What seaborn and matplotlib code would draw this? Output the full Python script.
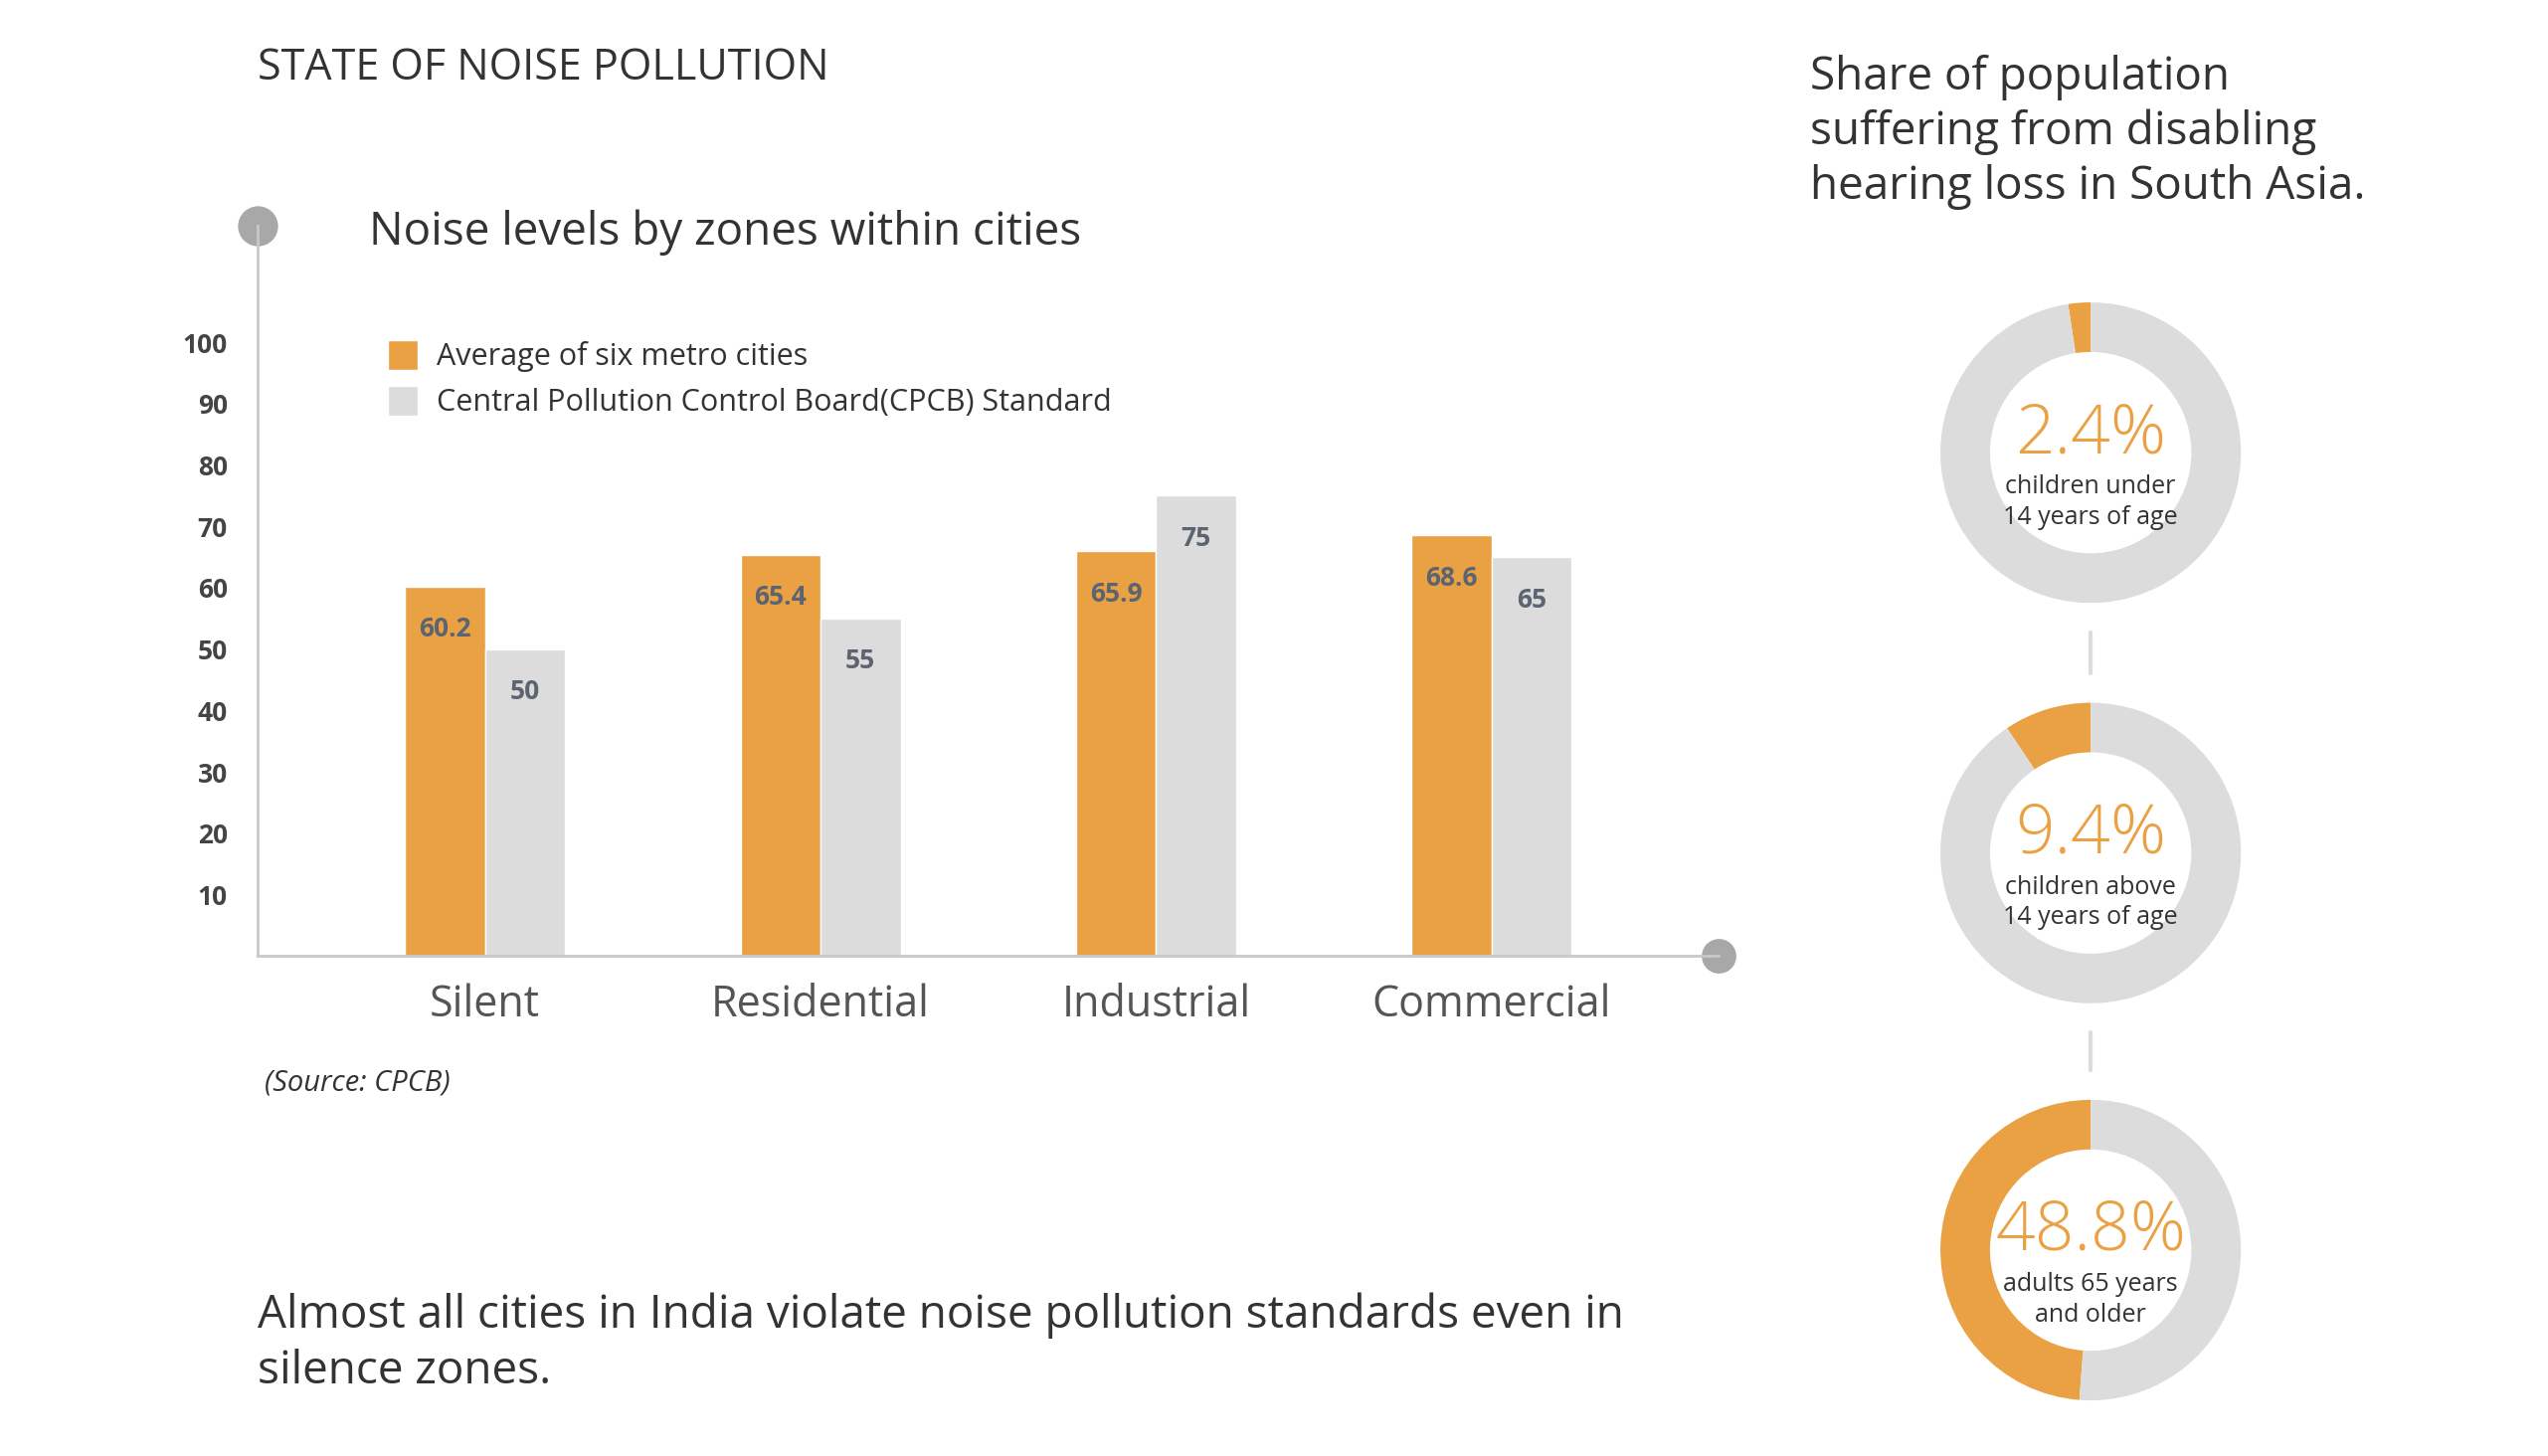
import numpy as np
import pandas as pd
import seaborn as sns
import matplotlib.pyplot as plt

zones = ["Silent", "Residential", "Industrial", "Commercial"]
metro_avg = [60.2, 65.4, 65.9, 68.6]
cpcb_std = [50, 55, 75, 65]
series = ["Average of six metro cities", "Central Pollution Control Board(CPCB) Standard"]
yticks = [10, 20, 30, 40, 50, 60, 70, 80, 90, 100]

donut_pct = [2.4, 9.4, 48.8]
donut_labels = ["children under\n14 years of age", "children above\n14 years of age", "adults 65 years\nand older"]

ORANGE = "#E9A144"
GREY = "#DCDCDC"
TXT = "#333333"

sns.set_style("white")
plt.rcParams["font.family"] = ["Open Sans", "DejaVu Sans"]

W, H = 1560, 891  # reference layout units
def fx(x): return x / W
def fy(y): return 1 - y / H

fig = plt.figure(figsize=(25.62, 14.64), dpi=100)

df = pd.DataFrame({
    "zone": zones * 2,
    "value": metro_avg + cpcb_std,
    "series": [series[0]] * 4 + [series[1]] * 4,
})

ax = fig.add_axes([fx(158), fy(585), fx(1052) - fx(158), fy(138) - fy(585)])
sns.barplot(data=df, x="zone", y="value", hue="series", palette=[ORANGE, GREY],
            width=0.477, dodge=True, ax=ax, saturation=1)
ax.set_xlim(-0.676, 3.675)
ax.set_ylim(0, 119)
for cont in ax.containers:
    for bar in cont:
        v = bar.get_height()
        ax.text(bar.get_x() + bar.get_width() / 2, v - 7, f"{v:g}", ha="center", va="center",
                fontsize=19, fontweight="bold", color="#5B6470")
for s in ["top", "right"]:
    ax.spines[s].set_visible(False)
for s in ["left", "bottom"]:
    ax.spines[s].set_color("#C8C8C8")
    ax.spines[s].set_linewidth(2)
ax.set_yticks(yticks)
ax.set_yticklabels([str(t) for t in yticks], fontsize=19, fontweight="bold", color="#444444")
ax.tick_params(axis="y", length=0, pad=22)
ax.tick_params(axis="x", length=0, pad=20, labelsize=31, labelcolor="#555555")
ax.set_xlabel("")
ax.set_ylabel("")
ax.plot([0], [1], "o", transform=ax.transAxes, ms=28, color="#A8A8A8", clip_on=False)
ax.plot([1], [0], "o", transform=ax.transAxes, ms=24, color="#A8A8A8", clip_on=False)
ax.legend(loc="upper left", bbox_to_anchor=(0.07, 0.88), frameon=False, fontsize=22,
          handlelength=1.0, handleheight=1.1, labelspacing=0.45, handletextpad=0.6, labelcolor=TXT)

fig.text(fx(158), fy(42), "STATE OF NOISE POLLUTION", fontsize=31, color=TXT, va="center")
fig.text(fx(226), fy(142), "Noise levels by zones within cities", fontsize=33, color=TXT, va="center")
fig.text(fx(162), fy(663), "(Source: CPCB)", fontsize=21, style="italic", color=TXT, va="center")
fig.text(fx(158), fy(822), "Almost all cities in India violate noise pollution standards even in\nsilence zones.",
         fontsize=33, color=TXT, va="center", linespacing=1.3)
fig.text(fx(1108), fy(81), "Share of population\nsuffering from disabling\nhearing loss in South Asia.",
         fontsize=33, color=TXT, va="center", linespacing=1.25)

centers = [277, 522, 765]
r = 115
cx = 1280

# connecting line segments between donuts
line_ax = fig.add_axes([0, 0, 1, 1], zorder=-1)
line_ax.axis("off")
line_ax.set_xlim(0, 1); line_ax.set_ylim(0, 1)
for a, b in zip(centers[:-1], centers[1:]):
    line_ax.plot([fx(cx), fx(cx)], [fy(a + r - 5), fy(b - r + 5)], color="#DCDCDC", lw=3)

for cy, pct, lab in zip(centers, donut_pct, donut_labels):
    dax = fig.add_axes([fx(cx - r), fy(cy + r), 2 * r / W, 2 * r / H])
    dax.pie([pct, 100 - pct], colors=[ORANGE, GREY], startangle=90, counterclock=True,
            wedgeprops=dict(width=0.33, edgecolor="none"))
    dax.set_aspect("equal")
    dax.text(0, 0.12, f"{pct}%", ha="center", va="center", fontsize=50, color=ORANGE, fontweight="light")
    dax.text(0, -0.33, lab, ha="center", va="center", fontsize=18, color=TXT, linespacing=1.3)

fig.savefig("out.png", dpi=100, facecolor="white")
